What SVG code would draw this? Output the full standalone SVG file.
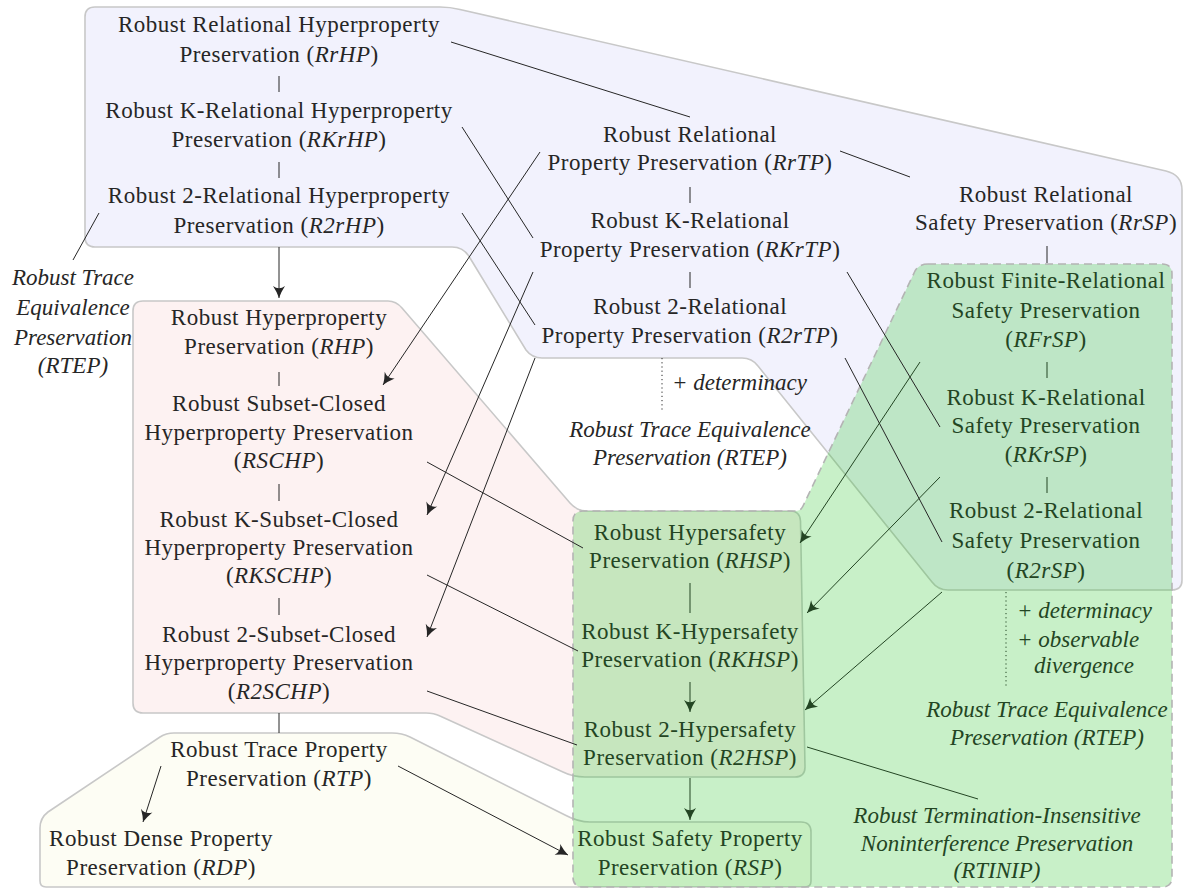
<svg xmlns="http://www.w3.org/2000/svg" width="1185" height="889" viewBox="0 0 1185 889" font-family="Liberation Serif, Times New Roman, serif">
<defs>
<style>
.t{font-family:'Liberation Serif','Times New Roman',serif;font-size:23px;fill:#262626;text-anchor:middle;letter-spacing:0.5px}
.gn .t{fill:#234523}
.i{font-style:italic}
.lab{font-style:italic;letter-spacing:0}
.c{stroke:#262626;stroke-width:1;fill:none}
.cg{stroke:#234523}
.a{marker-end:url(#ah)}
.ag{marker-end:url(#ahg)}
.reg{stroke:#c8c8c8;stroke-width:1.6}
.dot{stroke-dasharray:1.2,3}
</style>
<marker id="ah" viewBox="-13 -7 14 14" refX="0" refY="0" markerWidth="14" markerHeight="14" orient="auto" markerUnits="userSpaceOnUse"><path d="M0,0 Q-6,-2 -12,-6 Q-7.5,0 -12,6 Q-6,2 0,0 Z" fill="#262626"/></marker>
<marker id="ahg" viewBox="-13 -7 14 14" refX="0" refY="0" markerWidth="14" markerHeight="14" orient="auto" markerUnits="userSpaceOnUse"><path d="M0,0 Q-6,-2 -12,-6 Q-7.5,0 -12,6 Q-6,2 0,0 Z" fill="#234523"/></marker>
</defs>
<rect width="1185" height="889" fill="#ffffff"/>
<g id="regions">
<path id="region-relational" class="reg" fill="#f2f2fd" d="M95,7 L440,7 Q450,7 460,9.5 L1166,171 Q1182,175 1182,190 L1182,580 Q1182,590 1172,590 L948,590 Q938,590 932,582 L758,366 Q752,358 742,358 L542,358 Q532,358 526,350 L470,258 Q464,247 452,247 L95,247 Q85,247 85,237 L85,17 Q85,7 95,7 Z"/>
<path id="region-hyper" class="reg" fill="#fdf2f2" d="M143,301 L388,301 Q396,301 402,308 L570,503 Q577,511 587,511 L790,511 Q800,511 800.5,521 L805,767 Q805,777 795,777 L585,777 Q573,777 563,772 L440,716 Q434,713 426,713 L143,713 Q133,713 133,703 L133,311 Q133,301 143,301 Z"/>
<path id="region-trace" class="reg" fill="#fdfdf4" d="M174,733 L392,733 Q402,733 410,737 L565,815 Q578,822 590,822 L801,822 Q811,822 811,832 L811,881 Q811,887 805,887 L46,887 Q40,887 40,881 L40,828 Q40,818 48,812 L160,737 Q166,733 174,733 Z"/>
<path id="region-safety" fill="#23c323" fill-opacity="0.25" stroke="#b4b4b4" stroke-width="1.6" stroke-dasharray="8,5" d="M928,264 L1162,264 Q1172,264 1172,274 L1172,877 Q1172,887 1162,887 L583,887 Q573,887 573,877 L573,521 Q573,511 583,511 L795,511 Q801,511 803,506 L915,271 Q919,264 928,264 Z"/>
</g>
<g id="connectors">
<line class="c" x1="279" y1="76" x2="279" y2="92"/>
<line class="c" x1="279" y1="162" x2="279" y2="178"/>
<line class="c a" x1="279" y1="247" x2="279" y2="298"/>
<line class="c" x1="99" y1="213" x2="73" y2="260"/>
<line class="c" x1="279" y1="372" x2="279" y2="386"/>
<line class="c" x1="279" y1="484" x2="279" y2="501"/>
<line class="c" x1="279" y1="598" x2="279" y2="615"/>
<line class="c" x1="279" y1="713" x2="279" y2="733"/>
<line class="c a" x1="161" y1="766" x2="143" y2="822"/>
<line class="c a" x1="398" y1="766" x2="568" y2="855"/>
<line class="c" x1="690" y1="187" x2="690" y2="203"/>
<line class="c" x1="690" y1="272" x2="690" y2="288"/>
<line class="c" x1="451" y1="42" x2="690" y2="117"/>
<line class="c" x1="462" y1="127" x2="533" y2="238"/>
<line class="c" x1="462" y1="213" x2="535" y2="325"/>
<line class="c" x1="840" y1="151" x2="910" y2="177"/>
<line class="c" x1="847" y1="272" x2="940" y2="427"/>
<line class="c" x1="845" y1="358" x2="942" y2="542"/>
<line class="c a" x1="540" y1="152" x2="383" y2="385"/>
<line class="c a" x1="533" y1="272" x2="427" y2="515"/>
<line class="c a" x1="535" y1="358" x2="427" y2="637"/>
<line class="c dot" x1="662" y1="358" x2="662" y2="410"/>
<line class="c" x1="1047" y1="246" x2="1047" y2="263"/>
<line class="c cg" x1="1047" y1="362" x2="1047" y2="378"/>
<line class="c cg" x1="1047" y1="477" x2="1047" y2="493"/>
<line class="c cg ag" x1="920" y1="362" x2="800" y2="543"/>
<line class="c cg ag" x1="940" y1="477" x2="807" y2="613"/>
<line class="c cg ag" x1="942" y1="592" x2="805" y2="710"/>
<line class="c cg dot" x1="1006" y1="592" x2="1006" y2="687"/>
<line class="c" x1="427" y1="462" x2="583" y2="548"/>
<line class="c" x1="427" y1="575" x2="578" y2="651"/>
<line class="c" x1="427" y1="691" x2="577" y2="745"/>
<line class="c cg" x1="690" y1="583" x2="690" y2="613"/>
<line class="c cg ag" x1="690" y1="682" x2="690" y2="712"/>
<line class="c cg ag" x1="690" y1="778" x2="690" y2="820"/>
<line class="c cg" x1="807" y1="747" x2="978" y2="799"/>
</g>
<g id="RrHP"><text class="t" x="279" y="32">Robust Relational Hyperproperty</text><text class="t" x="279" y="62">Preservation (<tspan class="i">RrHP</tspan>)</text></g>
<g id="RKrHP"><text class="t" x="279" y="118">Robust K-Relational Hyperproperty</text><text class="t" x="279" y="147">Preservation (<tspan class="i">RKrHP</tspan>)</text></g>
<g id="R2rHP"><text class="t" x="279" y="203">Robust 2-Relational Hyperproperty</text><text class="t" x="279" y="233">Preservation (<tspan class="i">R2rHP</tspan>)</text></g>
<g id="RTEP-left"><text class="t lab" x="73" y="285">Robust Trace</text><text class="t lab" x="73" y="315">Equivalence</text><text class="t lab" x="73" y="345">Preservation</text><text class="t lab" x="73" y="373">(RTEP)</text></g>
<g id="RHP"><text class="t" x="279" y="325">Robust Hyperproperty</text><text class="t" x="279" y="354">Preservation (<tspan class="i">RHP</tspan>)</text></g>
<g id="RSCHP"><text class="t" x="279" y="411">Robust Subset-Closed</text><text class="t" x="279" y="440">Hyperproperty Preservation</text><text class="t" x="279" y="468">(<tspan class="i">RSCHP</tspan>)</text></g>
<g id="RKSCHP"><text class="t" x="279" y="527">Robust K-Subset-Closed</text><text class="t" x="279" y="555">Hyperproperty Preservation</text><text class="t" x="279" y="583">(<tspan class="i">RKSCHP</tspan>)</text></g>
<g id="R2SCHP"><text class="t" x="279" y="642">Robust 2-Subset-Closed</text><text class="t" x="279" y="670">Hyperproperty Preservation</text><text class="t" x="279" y="699">(<tspan class="i">R2SCHP</tspan>)</text></g>
<g id="RTP"><text class="t" x="279" y="757">Robust Trace Property</text><text class="t" x="279" y="786">Preservation (<tspan class="i">RTP</tspan>)</text></g>
<g id="RDP"><text class="t" x="161" y="846">Robust Dense Property</text><text class="t" x="161" y="875">Preservation (<tspan class="i">RDP</tspan>)</text></g>
<g id="RrTP"><text class="t" x="690" y="142">Robust Relational</text><text class="t" x="690" y="170">Property Preservation (<tspan class="i">RrTP</tspan>)</text></g>
<g id="RKrTP"><text class="t" x="690" y="228">Robust K-Relational</text><text class="t" x="690" y="257">Property Preservation (<tspan class="i">RKrTP</tspan>)</text></g>
<g id="R2rTP"><text class="t" x="690" y="314">Robust 2-Relational</text><text class="t" x="690" y="343">Property Preservation (<tspan class="i">R2rTP</tspan>)</text></g>
<g id="determinacy-mid"><text class="t lab" x="672" y="390" style="text-anchor:start">+ determinacy</text></g>
<g id="RTEP-mid"><text class="t lab" x="690" y="437">Robust Trace Equivalence</text><text class="t lab" x="690" y="465">Preservation (RTEP)</text></g>
<g id="RrSP"><text class="t" x="1046" y="202">Robust Relational</text><text class="t" x="1046" y="230">Safety Preservation (<tspan class="i">RrSP</tspan>)</text></g>
<g class="gn">
<g id="RFrSP"><text class="t" x="1046" y="288">Robust Finite-Relational</text><text class="t" x="1046" y="318">Safety Preservation</text><text class="t" x="1046" y="347">(<tspan class="i">RFrSP</tspan>)</text></g>
<g id="RKrSP"><text class="t" x="1046" y="405">Robust K-Relational</text><text class="t" x="1046" y="433">Safety Preservation</text><text class="t" x="1046" y="462">(<tspan class="i">RKrSP</tspan>)</text></g>
<g id="R2rSP"><text class="t" x="1046" y="518">Robust 2-Relational</text><text class="t" x="1046" y="548">Safety Preservation</text><text class="t" x="1046" y="578">(<tspan class="i">R2rSP</tspan>)</text></g>
<g id="determinacy-right"><text class="t lab" x="1017" y="618" style="text-anchor:start">+ determinacy</text><text class="t lab" x="1017" y="647" style="text-anchor:start">+ observable</text><text class="t lab" x="1034" y="673" style="text-anchor:start">divergence</text></g>
<g id="RTEP-right"><text class="t lab" x="1047" y="717">Robust Trace Equivalence</text><text class="t lab" x="1047" y="745">Preservation (RTEP)</text></g>
<g id="RTINIP"><text class="t lab" x="997" y="823">Robust Termination-Insensitive</text><text class="t lab" x="997" y="851">Noninterference Preservation</text><text class="t lab" x="997" y="878">(RTINIP)</text></g>
<g id="RHSP"><text class="t" x="690" y="540">Robust Hypersafety</text><text class="t" x="690" y="568">Preservation (<tspan class="i">RHSP</tspan>)</text></g>
<g id="RKHSP"><text class="t" x="690" y="639">Robust K-Hypersafety</text><text class="t" x="690" y="667">Preservation (<tspan class="i">RKHSP</tspan>)</text></g>
<g id="R2HSP"><text class="t" x="690" y="737">Robust 2-Hypersafety</text><text class="t" x="690" y="765">Preservation (<tspan class="i">R2HSP</tspan>)</text></g>
<g id="RSP"><text class="t" x="690" y="846">Robust Safety Property</text><text class="t" x="690" y="875">Preservation (<tspan class="i">RSP</tspan>)</text></g>
</g>
</svg>
